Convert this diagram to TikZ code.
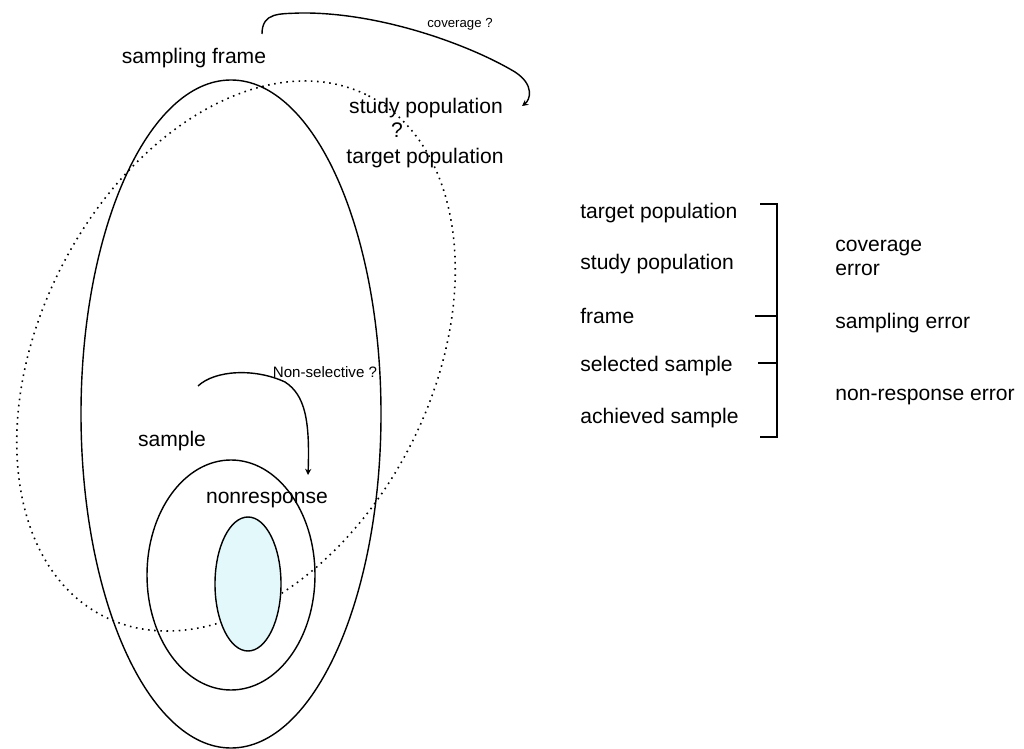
\documentclass[tikz,border=0pt]{standalone}
\usepackage{fontspec}
\setmainfont{Liberation Sans}
\usetikzlibrary{arrows.meta}
\definecolor{nonrespfill}{RGB}{226,248,250}
\begin{document}
\begin{tikzpicture}[x=0.02cm, y=-0.02cm, >=stealth,
    lbl/.style={inner sep=0pt, font=\fontsize{12}{14}\selectfont},
    smalllbl/.style={inner sep=0pt, font=\fontsize{7.5}{9}\selectfont},
    midlbl/.style={inner sep=0pt, font=\fontsize{8.6}{10}\selectfont},
    ring/.style={line width=0.8pt},
    bendarrow/.style={line width=0.8pt, -{Stealth[length=3.5pt,width=3.5pt]}}]
    \useasboundingbox (0,0) rectangle (1024,749);

    % Populacao alvo (elipse pontilhada inclinada)
    \draw[line width=0.9pt, dash pattern=on 0.9pt off 2.6pt, rotate around={63:(236,356)}] (236,356) ellipse [x radius=292, y radius=196];

    % Moldura, amostra e nao-resposta
    \draw[ring] (231,414) ellipse [x radius=150, y radius=334];
    \draw[ring] (231,575) ellipse [x radius=84, y radius=115];
    \filldraw[ring, fill=nonrespfill] (248,584) ellipse [x radius=33, y radius=67];

    % Rotulos do diagrama da esquerda
    \node[lbl] (frame) at (194,58) {sampling frame};
    \node[lbl] (study) at (426,108) {study population};
    \node[lbl] (qmark) at (397,130) {?};
    \node[lbl] (target) at (425,158) {target population};
    \node[lbl] (sample) at (172,441) {sample};
    \node[lbl] (nonresp) at (267,500) {nonresponse};
    \node[smalllbl] (covq) at (460,24) {coverage ?};
    \node[midlbl] (nonsel) at (325,372) {Non-selective ?};

    % Setas curvas
    \coordinate (cova) at (262,34);
    \coordinate (covb) at (522,106);
    \draw[bendarrow] (cova) .. controls (262,12) and (280,14) .. (300,13)
        .. controls (380,12) and (470,45) .. (515,72)
        .. controls (535,85) and (530,100) .. (covb);
    \coordinate (nsa) at (198,386);
    \coordinate (nsb) at (308,475);
    \draw[bendarrow] (nsa) .. controls (215,370) and (255,368) .. (285,382)
        .. controls (305,395) and (310,420) .. (nsb);

    % Lista de etapas a direita
    \foreach \y/\txt [count=\i] in {213/target population, 264/study population,
        316/frame, 366/selected sample, 418/achieved sample} {
      \node[lbl, anchor=west] (step\i) at (580,\y) {\txt};
    }

    % Chave e marcas
    \coordinate (bt) at (777,204);
    \coordinate (bb) at (777,437);
    \draw[line width=0.8pt] (760,204) -- (bt) -- (bb) -- (760,437);
    \draw[line width=0.8pt] (755,316) -- (777,316);
    \draw[line width=0.8pt] (758,363) -- (777,363);

    % Tipos de erro
    \node[lbl, anchor=west] (coverr1) at (835,248) {coverage};
    \node[lbl, anchor=west] (coverr2) at (835,270) {error};
    \node[lbl, anchor=west] (samperr) at (835,323) {sampling error};
    \node[lbl, anchor=west] (nonerr) at (835,397) {non-response error};
  \end{tikzpicture}
\end{document}
